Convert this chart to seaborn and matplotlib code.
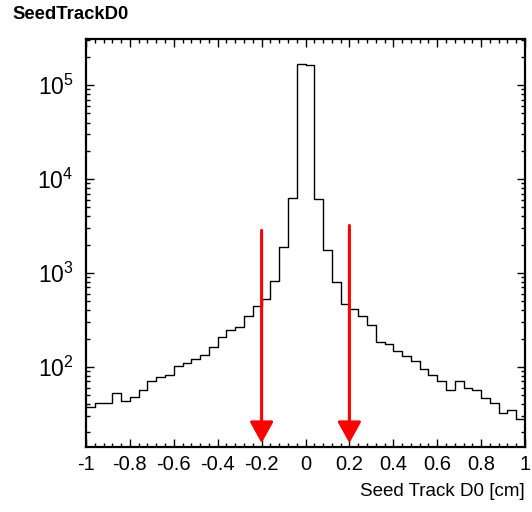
import numpy as np
import pandas as pd
import matplotlib
matplotlib.use("Agg")
import matplotlib.pyplot as plt
from matplotlib.ticker import MultipleLocator, LogLocator, NullFormatter
import seaborn as sns

# ---- data ----
bin_lo = -1.0
bin_hi = 1.0
n_bins = 50
counts = [37, 41, 41, 53, 43, 48, 57, 70, 77, 82, 102, 109, 120, 135, 162,
          207, 245, 267, 344, 446, 529, 822, 1892, 6290, 167000, 164000, 6200,
          1774, 801, 472, 408, 352, 280, 185, 177, 146, 132, 116, 94, 81, 70,
          56, 70, 60, 57, 47, 41, 32, 35, 28]
arrow_x = [-0.2, 0.2]
arrow_top = [2840, 3200]
arrow_tip = [15.4, 15.4]
x_ticks = [-1, -0.8, -0.6, -0.4, -0.2, 0, 0.2, 0.4, 0.6, 0.8, 1]
x_ticklabels = ["-1", "-0.8", "-0.6", "-0.4", "-0.2", "0", "0.2", "0.4", "0.6", "0.8", "1"]
y_ticks = [1e2, 1e3, 1e4, 1e5]
y_ticklabels = [r"$10^{2}$", r"$10^{3}$", r"$10^{4}$", r"$10^{5}$"]
title = "SeedTrackD0"
xlabel = "Seed Track D0 [cm]"

edges = np.linspace(bin_lo, bin_hi, n_bins + 1)
centers = 0.5 * (edges[:-1] + edges[1:])
df = pd.DataFrame({"d0": centers, "n": counts})

sns.set_style("ticks")
plt.rcParams["font.family"] = ["Liberation Sans", "DejaVu Sans"]
plt.rcParams["mathtext.fontset"] = "custom"
plt.rcParams["mathtext.rm"] = "Liberation Sans"
plt.rcParams["mathtext.it"] = "Liberation Sans"
plt.rcParams["mathtext.default"] = "regular"
plt.rcParams["text.color"] = "black"
plt.rcParams["xtick.labelcolor"] = "black"
plt.rcParams["ytick.labelcolor"] = "black"
plt.rcParams["axes.labelcolor"] = "black"

fig = plt.figure(figsize=(5.32, 5.12), dpi=100)
ax = fig.add_axes([86 / 532, 65 / 512, 439 / 532, 408 / 512])

sns.histplot(data=df, x="d0", weights="n", binwidth=(bin_hi - bin_lo) / n_bins,
             binrange=(bin_lo, bin_hi), element="step",
             fill=False, color="black", linewidth=1.0, ax=ax)
ax.set_yscale("log")
ax.set_xlim(bin_lo, bin_hi)
ax.set_ylim(14, 3.1e5)

for xa, yt, yb in zip(arrow_x, arrow_top, arrow_tip):
    ax.annotate("", xy=(xa, yb), xytext=(xa, yt),
                arrowprops=dict(arrowstyle="-|>,head_length=1.3,head_width=0.72",
                                mutation_scale=10, color="red", lw=2.2,
                                shrinkA=0, shrinkB=0))

ax.set_xticks(x_ticks)
ax.set_xticklabels(x_ticklabels)
ax.xaxis.set_minor_locator(MultipleLocator(0.04))
ax.set_yticks(y_ticks)
ax.set_yticklabels(y_ticklabels, fontsize=16.5)
ax.yaxis.set_minor_locator(LogLocator(base=10, subs=np.arange(2, 10)))
ax.yaxis.set_minor_formatter(NullFormatter())

ax.tick_params(axis="both", which="both", direction="in", top=True, right=True,
               color="black", labelcolor="black")
ax.tick_params(axis="both", which="major", length=6, width=1)
ax.tick_params(axis="both", which="minor", length=3, width=1)
ax.tick_params(axis="x", which="major", labelsize=14.5, pad=6)
ax.tick_params(axis="y", which="major", pad=9)

for s in ax.spines.values():
    s.set_linewidth(1.6)
    s.set_color("black")

ax.set_xlabel(xlabel, fontsize=13.5, loc="right", labelpad=6, color="black")
ax.set_ylabel("")
fig.text(12 / 532, 1 - 6 / 512, title, fontsize=13.3, fontweight="bold",
         ha="left", va="top", color="black")

fig.savefig("out.png", dpi=100)
